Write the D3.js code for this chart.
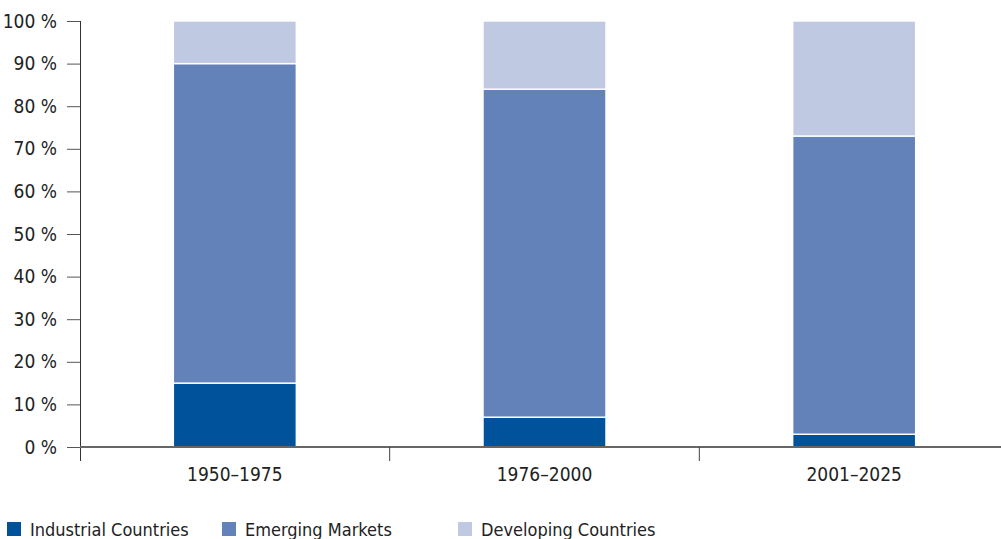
<!DOCTYPE html>
<html>
<head>
<meta charset="utf-8">
<script src="https://cdn.jsdelivr.net/npm/d3@7"></script>
<style>
  html, body { margin: 0; padding: 0; background: #fff; }
  svg text { font-family: "DejaVu Sans Condensed", "DejaVu Sans", sans-serif; font-stretch: condensed; fill: #222; }
</style>
</head>
<body>
<svg id="chart" width="1001" height="539"></svg>
<script>
// Periods on the x axis
const periods = ["1950–1975", "1976–2000", "2001–2025"];
// Share of each country group, in percent
const industrial = [15, 7, 3];
const emerging = [75, 77, 70];
const developing = [10, 16, 27];
const seriesNames = ["Industrial Countries", "Emerging Markets", "Developing Countries"];
const seriesColors = ["#00529b", "#6282b9", "#c0c9e2"];
const yTicks = [0, 10, 20, 30, 40, 50, 60, 70, 80, 90, 100];

const svg = d3.select("#chart");
const plotLeft = 80, plotRight = 1009, plotTop = 21, plotBottom = 447;
const fontSize = 19;

const rows = periods.map((p, i) => ({
  period: p,
  "Industrial Countries": industrial[i],
  "Emerging Markets": emerging[i],
  "Developing Countries": developing[i]
}));
const stacked = d3.stack().keys(seriesNames)(rows);

const x = d3.scaleBand().domain(periods).range([plotLeft, plotRight]);
const y = d3.scaleLinear().domain([0, 100]).range([plotBottom, plotTop]);
const barW = x.bandwidth() * 0.397;

// Y axis
const yAxis = svg.append("g")
  .attr("transform", `translate(${plotLeft},0)`)
  .call(d3.axisLeft(y).tickValues(yTicks).tickSize(13).tickPadding(10).tickFormat(d => d + " %"));
yAxis.select(".domain").attr("stroke", "#333").attr("d", `M0.5,${plotTop}V${plotBottom + 14}`);
yAxis.selectAll(".tick line").attr("stroke", "#555");
yAxis.selectAll(".tick text").attr("font-size", fontSize);

// Stacked bars
svg.append("g").selectAll("g")
  .data(stacked)
  .join("g")
  .attr("fill", (d, i) => seriesColors[i])
  .selectAll("rect")
  .data(d => d)
  .join("rect")
  .attr("x", d => x(d.data.period) + (x.bandwidth() - barW) / 2)
  .attr("width", barW)
  .attr("y", d => y(d[1]))
  .attr("height", d => y(d[0]) - y(d[1]))
  .attr("stroke", "#fff")
  .attr("stroke-width", 1.4);

// X axis
const xAxis = svg.append("g")
  .attr("transform", `translate(0,${plotBottom})`)
  .call(d3.axisBottom(x).tickSize(0).tickPadding(21));
xAxis.select(".domain").attr("stroke", "#666").attr("stroke-width", 2).attr("d", `M${plotLeft},0H1001`);
xAxis.selectAll(".tick text").attr("font-size", fontSize);
// Separators between periods
xAxis.selectAll(".sep")
  .data(periods.slice(1))
  .join("line")
  .attr("class", "sep")
  .attr("x1", d => x(d)).attr("x2", d => x(d))
  .attr("y1", 0).attr("y2", 14)
  .attr("stroke", "#444");

// Legend
const legendX = [7, 222, 458];
const legend = svg.append("g").attr("transform", "translate(0,522)");
const items = legend.selectAll("g")
  .data(seriesNames)
  .join("g")
  .attr("transform", (d, i) => `translate(${legendX[i]},0)`);
items.append("rect").attr("width", 14).attr("height", 14).attr("fill", (d, i) => seriesColors[i]);
items.append("text").attr("x", 23).attr("y", 14).attr("font-size", 18).text(d => d);
</script>
</body>
</html>
